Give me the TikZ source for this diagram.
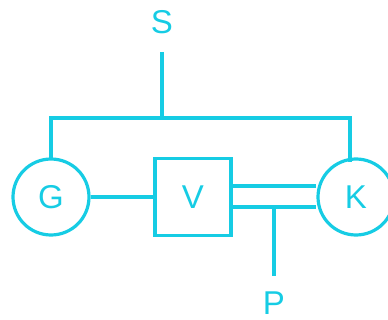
\documentclass[tikz,border=0pt]{standalone}
\usepackage{fontspec}
\setmainfont{Liberation Sans}
\definecolor{cy}{RGB}{22,204,228}
\begin{document}
\begin{tikzpicture}[x=1pt,y=-1pt,
  ln/.style={draw=cy,line width=3.2pt},
  lbl/.style={text=cy,font=\fontsize{33}{36}\selectfont,inner sep=0pt},
  circ/.style={ln,circle,minimum size=76pt,inner sep=0pt,text=cy,font=\fontsize{33}{36}\selectfont},
  boxn/.style={ln,minimum width=76pt,minimum height=77pt,inner sep=0pt,text=cy,font=\fontsize{33}{36}\selectfont}]
\useasboundingbox (0,0) rectangle (388,320);
\node[circ] (G) at (51,197) {G};
\node[circ] (K) at (356,197) {K};
\node[boxn] (V) at (193,197) {V};
\node[lbl] (S) at (162,22) {S};
\node[lbl] (P) at (274,303) {P};
\coordinate (s1) at (162,52);
\coordinate (top) at (162,118);
\coordinate (p1) at (274,276);
\draw[ln,line cap=rect] (G.north) -- (51,118) -- (350,118) -- (350,160);
\draw[ln] (s1) -- (top);
\draw[ln] (G.east) -- (V.west);
\draw[ln] (V.east |- 0,186) -- (K.west |- 0,186);
\draw[ln] (V.east |- 0,207) -- (K.west |- 0,207);
\draw[ln] (274,207) -- (p1);
\end{tikzpicture}
\end{document}
